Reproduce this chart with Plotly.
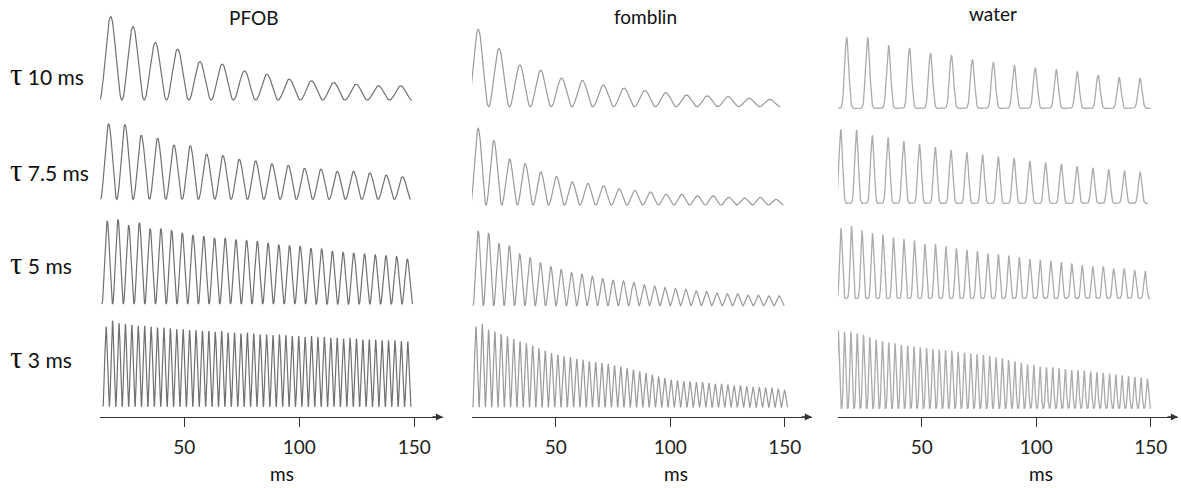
import numpy as np
import plotly.graph_objects as go

W, H = 1181, 488

# ---------------- data ----------------
samples = ["PFOB", "fomblin", "water"]
tau_labels = ["10", "7.5", "5", "3"]
tick_vals = [50, 100, 150]
tick_text = ["50", "100", "150"]
x_title = "ms"

# first echo time (ms) and echo spacing (ms) for rows tau 10, 7.5, 5, 3
pfob_first_echo = [18.0, 17.1, 16.5, 16.0]
pfob_spacing = [9.70, 7.10, 4.66, 2.79]
fomblin_first_echo = [16.1, 16.1, 16.1, 15.1]
fomblin_spacing = [9.10, 6.84, 4.53, 2.75]
water_first_echo = [17.2, 14.6, 14.7, 13.5]
water_spacing = [9.15, 6.88, 4.58, 2.755]

# echo peak amplitudes (relative to the tallest echo of each panel)
pfob_tau10 = [1.0, 0.88, 0.69, 0.61, 0.46, 0.43, 0.35, 0.31, 0.25, 0.23, 0.21, 0.19, 0.17, 0.17]
pfob_tau7_5 = [1.0, 0.99, 0.85, 0.81, 0.72, 0.71, 0.60, 0.58, 0.53, 0.51, 0.47, 0.45, 0.41, 0.40,
               0.37, 0.37, 0.35, 0.32, 0.30]
pfob_tau5 = [0.98, 1.0, 0.93, 0.96, 0.89, 0.89, 0.87, 0.84, 0.81, 0.80, 0.78, 0.78, 0.76, 0.75,
             0.74, 0.72, 0.70, 0.69, 0.68, 0.66, 0.65, 0.62, 0.61, 0.60, 0.59, 0.58, 0.57, 0.56, 0.53]
pfob_tau3 = [0.93, 1.0, 0.97, 0.96, 0.95, 0.94, 0.94, 0.93, 0.92, 0.92, 0.91, 0.90, 0.90, 0.89,
             0.89, 0.88, 0.88, 0.87, 0.88, 0.86, 0.86, 0.85, 0.86, 0.85, 0.84, 0.84, 0.83, 0.84,
             0.83, 0.82, 0.82, 0.81, 0.82, 0.81, 0.81, 0.80, 0.80, 0.79, 0.80, 0.79, 0.78, 0.78,
             0.78, 0.77, 0.77, 0.77, 0.76, 0.76]

fomblin_tau10 = [1.0, 0.75, 0.54, 0.47, 0.37, 0.34, 0.28, 0.24, 0.21, 0.18, 0.15, 0.14, 0.13, 0.11, 0.095]
fomblin_tau7_5 = [1.0, 0.84, 0.60, 0.54, 0.43, 0.37, 0.30, 0.28, 0.25, 0.21, 0.19, 0.17, 0.14, 0.14,
                  0.12, 0.12, 0.10, 0.09, 0.10, 0.075]
fomblin_tau5 = [1.0, 0.97, 0.83, 0.80, 0.69, 0.64, 0.57, 0.52, 0.48, 0.44, 0.42, 0.39, 0.36, 0.34,
                0.33, 0.31, 0.28, 0.26, 0.24, 0.23, 0.22, 0.20, 0.19, 0.17, 0.16, 0.16, 0.14, 0.14,
                0.13, 0.13]
fomblin_tau3 = [0.97, 1.0, 0.93, 0.91, 0.88, 0.85, 0.82, 0.79, 0.77, 0.74, 0.71, 0.68, 0.65, 0.63,
                0.61, 0.60, 0.58, 0.57, 0.55, 0.54, 0.53, 0.52, 0.50, 0.49, 0.47, 0.45, 0.43, 0.41,
                0.39, 0.37, 0.35, 0.33, 0.32, 0.31, 0.31, 0.30, 0.30, 0.29, 0.28, 0.28, 0.27, 0.26,
                0.26, 0.25, 0.24, 0.24, 0.23, 0.23, 0.22, 0.21]

water_tau10 = [1.0, 1.0, 0.89, 0.85, 0.78, 0.75, 0.69, 0.65, 0.61, 0.57, 0.55, 0.52, 0.47, 0.44, 0.42]
water_tau7_5 = [1.0, 0.99, 0.92, 0.89, 0.84, 0.80, 0.76, 0.72, 0.69, 0.66, 0.63, 0.61, 0.57, 0.55,
                0.53, 0.50, 0.48, 0.46, 0.44, 0.42]
water_tau5 = [0.97, 1.0, 0.94, 0.90, 0.88, 0.84, 0.82, 0.80, 0.75, 0.75, 0.72, 0.69, 0.67, 0.65,
              0.62, 0.61, 0.59, 0.57, 0.54, 0.53, 0.52, 0.50, 0.48, 0.46, 0.44, 0.44, 0.41, 0.41,
              0.39, 0.38]
water_tau3 = [1.0, 0.98, 0.98, 0.96, 0.94, 0.91, 0.88, 0.86, 0.84, 0.83, 0.81, 0.80, 0.79, 0.78,
              0.77, 0.76, 0.75, 0.74, 0.73, 0.72, 0.71, 0.70, 0.69, 0.68, 0.67, 0.65, 0.64, 0.62,
              0.60, 0.58, 0.56, 0.55, 0.53, 0.52, 0.52, 0.51, 0.50, 0.49, 0.49, 0.48, 0.47, 0.46,
              0.45, 0.44, 0.43, 0.42, 0.41, 0.40, 0.39, 0.38]

amps = {
    "PFOB": [pfob_tau10, pfob_tau7_5, pfob_tau5, pfob_tau3],
    "fomblin": [fomblin_tau10, fomblin_tau7_5, fomblin_tau5, fomblin_tau3],
    "water": [water_tau10, water_tau7_5, water_tau5, water_tau3],
}
first_echo = {"PFOB": pfob_first_echo, "fomblin": fomblin_first_echo, "water": water_first_echo}
spacing = {"PFOB": pfob_spacing, "fomblin": fomblin_spacing, "water": water_spacing}

# ---------------- layout / style ----------------
FONT = "Lato"
# axis line start px, arrow tip px, px of 100 ms, px per ms
col_geom = {
    "PFOB": (100, 443, 299.3, 2.30),
    "fomblin": (472, 812, 670.3, 2.29),
    "water": (838, 1178, 1036.3, 2.29),
}
axis_y_px = 417
panel_base_px = {"PFOB": [100, 199.3, 304, 406.7],
                 "fomblin": [106.7, 205, 305.7, 407.3],
                 "water": [108.3, 203.3, 298.3, 408.3]}
panel_top_px = {"PFOB": [16.7, 124, 219.3, 320.7],
                "fomblin": [29.3, 128.3, 230.7, 324],
                "water": [37.3, 129.3, 226, 330]}
pulse_power = {"PFOB": [2, 2, 2, 2], "fomblin": [2, 2, 2, 2], "water": [11, 8, 6, 3.5]}
line_color = {"PFOB": "#707070", "fomblin": "#9a9a9a", "water": "#ababab"}
line_width = {"PFOB": 1.2, "fomblin": 1.2, "water": 1.3}
title_px = {"PFOB": (254, 17), "fomblin": (645, 16), "water": (993, 14)}
ms_px = {"PFOB": (282, 473), "fomblin": (676, 473), "water": (1041, 473)}
row_label_py = [75, 170, 263, 357]


def echo_train(t0, dt, a_list, p, n_per=40):
    ts, ys = [], []
    n = len(a_list)
    for k, a in enumerate(a_list):
        u = np.linspace(-0.5, 0.5, n_per, endpoint=(k == n - 1))
        ts.append(t0 + k * dt + u * dt)
        ys.append(a * np.clip(np.cos(np.pi * u), 0, None) ** p)
    return np.concatenate(ts), np.concatenate(ys)


def py(px):
    return 1 - px / H


def px_to_ms(px, p100, slope):
    return 100 + (px - p100) / slope


fig = go.Figure()
layout = {}
PAD = 0.03
yk = 0
for c, s in enumerate(samples):
    xid = "x" if c == 0 else f"x{c + 1}"
    xs, xe, p100, slope = col_geom[s]
    layout["xaxis" if c == 0 else f"xaxis{c + 1}"] = dict(
        domain=[xs / W, xe / W], anchor="free", position=py(axis_y_px),
        range=[px_to_ms(xs, p100, slope), px_to_ms(xe, p100, slope)],
        showline=True, linecolor="#333333", linewidth=1.3,
        ticks="outside", ticklen=9, tickwidth=1.3, tickcolor="#333333",
        tickvals=tick_vals, ticktext=tick_text, showgrid=False, zeroline=False,
        tickfont=dict(family=FONT, size=19, color="#222"), ticklabelstandoff=4,
        fixedrange=True,
    )
    for r in range(4):
        yk += 1
        yid = "y" if yk == 1 else f"y{yk}"
        base = panel_base_px[s][r]
        top = panel_top_px[s][r]
        h = base - top
        layout["yaxis" if yk == 1 else f"yaxis{yk}"] = dict(
            domain=[py(base + PAD * h), py(top - PAD * h)], anchor=xid,
            range=[-PAD, 1 + PAD], visible=False, fixedrange=True,
        )
        t, y = echo_train(first_echo[s][r], spacing[s][r], amps[s][r], pulse_power[s][r])
        fig.add_trace(go.Scatter(
            x=t, y=y, xaxis=xid, yaxis=yid, mode="lines",
            line=dict(color=line_color[s], width=line_width[s]),
            hoverinfo="skip", showlegend=False,
        ))

annotations = []
for s in samples:
    tx, ty = title_px[s]
    annotations.append(dict(text=s, x=tx / W, y=py(ty), xref="paper", yref="paper",
                            xanchor="center", yanchor="middle",
                            showarrow=False, font=dict(family=FONT, size=19, color="#111")))
    mx, my = ms_px[s]
    annotations.append(dict(text=x_title, x=mx / W, y=py(my), xref="paper", yref="paper",
                            xanchor="center", yanchor="middle",
                            showarrow=False, font=dict(family=FONT, size=19, color="#111")))
    xs, xe, p100, slope = col_geom[s]
    annotations.append(dict(text="", x=xe / W, y=py(axis_y_px), xref="paper", yref="paper",
                            showarrow=True, ax=-12, ay=0, arrowhead=2, arrowsize=1.1,
                            arrowwidth=1.3, arrowcolor="#333333"))
for r, tl in enumerate(tau_labels):
    annotations.append(dict(
        text=f"<span style='font-family:Liberation Serif;font-size:31px'>τ</span> {tl} ms",
        x=8 / W, y=py(row_label_py[r]), xref="paper", yref="paper",
        xanchor="left", yanchor="middle",
        showarrow=False, font=dict(family=FONT, size=21, color="#111")))

fig.update_layout(
    width=W, height=H, margin=dict(l=0, r=0, t=0, b=0),
    paper_bgcolor="white", plot_bgcolor="white",
    annotations=annotations, **layout,
)
fig.write_html("out.html", config={"displayModeBar": False},
               post_script="document.body.style.margin='0';document.body.style.overflow='hidden';")
